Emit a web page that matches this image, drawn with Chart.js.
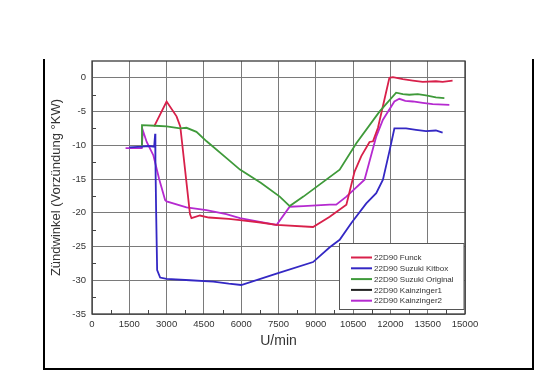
<!DOCTYPE html>
<html>
<head>
<meta charset="utf-8">
<script src="https://cdn.jsdelivr.net/npm/chart.js@4/dist/chart.umd.min.js"></script>
<style>
html,body{margin:0;padding:0;background:#fff;}
#wrap{width:534px;height:371px;position:relative;}
</style>
</head>
<body>
<div id="wrap"><canvas id="c" width="534" height="371"></canvas></div>
<script>
// ---- data ----
const seriesNames = ["22D90 Funck","22D90 Suzuki Kitbox","22D90 Suzuki Original","22D90 Kainzinger1","22D90 Kainzinger2"];
const xTickValues = [0,1500,3000,4500,6000,7500,9000,10500,12000,13500,15000];
const yTickValues = [-35,-30,-25,-20,-15,-10,-5,0];

const funckRpm = [2500,3000,3400,3550,3940,4000,4340,4700,5500,5950,6700,7420,8890,9560,10230,10560,10830,11160,11300,11500,11960,12100,12500,12900,13300,13830,14100,14500];
const funckDeg = [-7.2,-3.5,-5.7,-7.2,-20.2,-20.8,-20.4,-20.7,-20.9,-21.1,-21.4,-21.8,-22.1,-20.6,-18.8,-13.9,-11.6,-9.5,-9.4,-7.4,0,0.1,-0.2,-0.4,-0.6,-0.5,-0.6,-0.4];

const kitboxRpm = [1500,2000,2300,2500,2540,2550,2580,2620,2740,3000,3940,4880,5500,6000,7420,8890,9560,9960,10430,11030,11430,11700,11960,12160,12630,13030,13430,13830,14100];
const kitboxDeg = [-10.3,-10.2,-10.1,-10.2,-8.3,-12,-20,-28.5,-29.6,-29.8,-30.0,-30.2,-30.5,-30.7,-29.0,-27.3,-25.1,-24.0,-21.5,-18.6,-17.1,-15.1,-10.9,-7.5,-7.5,-7.7,-7.9,-7.8,-8.1];

const originalRpm = [2000,2010,2540,3000,3540,3800,4200,4610,5410,5950,6800,7550,7950,8500,9960,10630,11560,12230,12500,12760,13100,13430,13830,14170];
const originalDeg = [-10.2,-7.0,-7.1,-7.2,-7.5,-7.4,-8.0,-9.4,-11.9,-13.6,-15.6,-17.6,-19.0,-17.6,-13.6,-9.7,-5.0,-2.2,-2.4,-2.5,-2.4,-2.6,-2.9,-3.0];

const kainz1Rpm = [];
const kainz1Deg = [];

const kainz2Rpm = [1350,1540,2000,2045,2200,2470,2700,2940,3000,3800,4600,5400,5950,6700,7420,7950,8500,9560,9820,10230,10960,11430,11700,12160,12360,12600,12900,13300,13700,14370];
const kainz2Deg = [-10.4,-10.4,-10.4,-7.8,-9.5,-11.5,-15.0,-18.1,-18.3,-19.2,-19.6,-20.2,-20.8,-21.3,-21.8,-19.1,-19.0,-18.8,-18.8,-17.6,-15.1,-8.7,-6.2,-3.5,-3.1,-3.4,-3.5,-3.7,-3.9,-4.0];

const seriesColors = ["#d8204a","#3428c4","#3f9a3a","#222222","#b52ad0"];

function pts(xs, ys){ return xs.map((x,i)=>({x:x,y:ys[i]})); }
const seriesData = [
  pts(funckRpm, funckDeg),
  pts(kitboxRpm, kitboxDeg),
  pts(originalRpm, originalDeg),
  pts(kainz1Rpm, kainz1Deg),
  pts(kainz2Rpm, kainz2Deg)
];
const drawOrder = [1,2,0,3,4];

const decor = {
  id:'decor',
  afterDraw(chart){
    const ctx = chart.ctx, a = chart.chartArea, xs = chart.scales.x, ys = chart.scales.y;
    ctx.save();
    // plot border
    ctx.strokeStyle = '#3a3a3a'; ctx.lineWidth = 1.3;
    ctx.strokeRect(a.left, a.top, a.right - a.left, a.bottom - a.top);
    // minor ticks
    ctx.strokeStyle = '#444'; ctx.lineWidth = 1;
    ctx.beginPath();
    for (let i=0;i<yTickValues.length-1;i++){
      const v = (yTickValues[i]+yTickValues[i+1])/2;
      const p = Math.round(ys.getPixelForValue(v))+0.5;
      ctx.moveTo(a.left, p); ctx.lineTo(a.left+4, p);
    }
    for (let i=0;i<xTickValues.length-1;i++){
      const v = (xTickValues[i]+xTickValues[i+1])/2;
      const p = Math.round(xs.getPixelForValue(v))+0.5;
      ctx.moveTo(p, a.bottom); ctx.lineTo(p, a.bottom-4);
    }
    ctx.stroke();
    // legend box
    const bx = 339.5, by = 243.5, bw = 124.5, bh = 66;
    ctx.fillStyle = '#fff';
    ctx.fillRect(bx, by, bw, bh);
    ctx.strokeStyle = '#555'; ctx.lineWidth = 1;
    ctx.strokeRect(bx, by, bw, bh);
    ctx.font = '8px "Liberation Sans", Arial, sans-serif';
    ctx.textBaseline = 'middle';
    ctx.textAlign = 'left';
    chart.data.datasets.slice().sort((p,q)=>p.legendIndex-q.legendIndex).forEach((ds,i)=>{
      const yy = 257.5 + i*10.8;
      ctx.strokeStyle = ds.borderColor; ctx.lineWidth = 2;
      ctx.beginPath(); ctx.moveTo(351, yy); ctx.lineTo(372, yy); ctx.stroke();
      ctx.fillStyle = '#333';
      ctx.fillText(ds.label, 374, yy+0.5);
    });
    // outer frame
    ctx.strokeStyle = '#000'; ctx.lineWidth = 2;
    ctx.beginPath();
    ctx.moveTo(44, 59); ctx.lineTo(44, 369); ctx.lineTo(533, 369); ctx.lineTo(533, 59);
    ctx.stroke();
    ctx.restore();
  }
};

const datasets = drawOrder.map(i => ({
  label: seriesNames[i],
  legendIndex: i,
  data: seriesData[i],
  borderColor: seriesColors[i],
  backgroundColor: seriesColors[i],
  borderWidth: 1.8,
  pointRadius: 0,
  tension: 0,
  fill: false
}));

const plainNum = v => String(v);

new Chart(document.getElementById('c'), {
  type: 'line',
  data: { datasets: datasets },
  plugins: [decor],
  options: {
    responsive: false,
    animation: false,
    layout: { padding: { left: 49, right: 69, top: 61, bottom: 21 } },
    plugins: { legend: { display: false }, tooltip: { enabled: false } },
    scales: {
      x: {
        type: 'linear',
        min: 0, max: 15000,
        afterBuildTicks: s => { s.ticks = xTickValues.map(v => ({value: v})); },
        afterFit: s => { s.height = 36; },
        grid: { color: '#7a7a7a', lineWidth: 1, drawTicks: false },
        border: { display: false },
        ticks: { autoSkip: false, maxRotation: 0, padding: 5, color: '#333', callback: plainNum,
                 font: { family: '"Liberation Sans", Arial, sans-serif', size: 9.5 } },
        title: { display: true, text: 'U/min', color: '#333', padding: 0,
                 font: { family: '"Liberation Sans", Arial, sans-serif', size: 14 } }
      },
      y: {
        type: 'linear',
        min: -35, max: 2.5,
        afterBuildTicks: s => { s.ticks = yTickValues.map(v => ({value: v})); },
        afterFit: s => { s.width = 43; },
        grid: { color: '#7a7a7a', lineWidth: 1, drawTicks: false },
        border: { display: false },
        ticks: { padding: 6, color: '#333', callback: plainNum,
                 font: { family: '"Liberation Sans", Arial, sans-serif', size: 9.5 } },
        title: { display: true, text: 'Zündwinkel (Vorzündung °KW)', color: '#333', padding: 0,
                 font: { family: '"Liberation Sans", Arial, sans-serif', size: 13 } }
      }
    }
  }
});
</script>
</body>
</html>
